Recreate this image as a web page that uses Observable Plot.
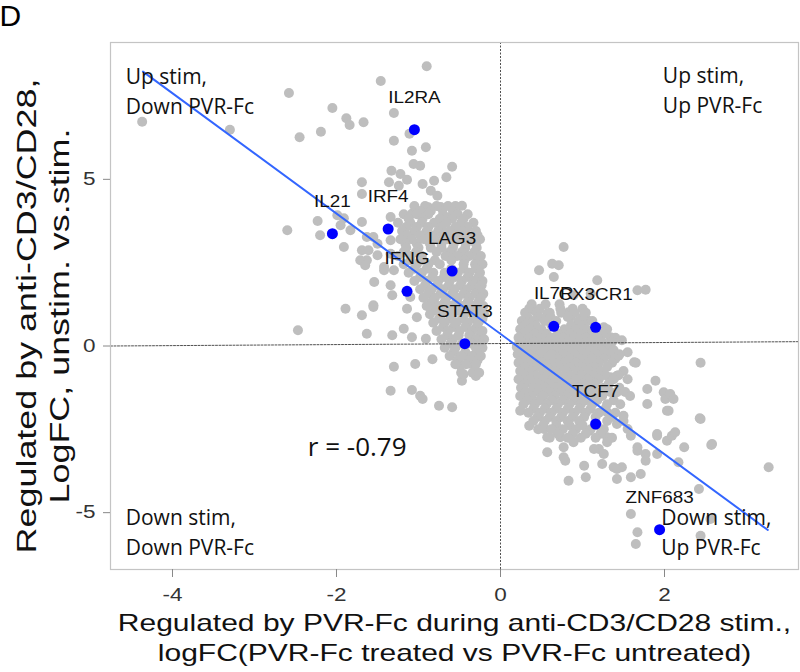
<!DOCTYPE html>
<html><head><meta charset="utf-8">
<script src="https://cdn.jsdelivr.net/npm/d3@7"></script>
<script src="https://cdn.jsdelivr.net/npm/@observablehq/plot@0.6"></script>
<style>body{margin:0;background:#fff}</style>
</head><body><div id="chart"></div>
<script>
// ---- data ----
const genes = ["IL2RA","IL21","IRF4","LAG3","IFNG","STAT3","IL7R","CX3CR1","TCF7","ZNF683"];
const geneX = [-1.05,-2.05,-1.37,-0.59,-1.14,-0.435,0.65,1.16,1.16,1.94];
const geneY = [6.49,3.37,3.51,2.25,1.64,0.07,0.59,0.56,-2.34,-5.51];

const greyLeftOutliers = [[-4.37,6.73],[-3.30,6.49],[-2.58,7.59],[-2.45,6.26],[-2.19,6.43],[-2.05,7.14],[-1.88,6.83],[-1.84,6.63],[-1.67,6.71],[-1.46,7.95],[-0.90,8.39],[-1.30,6.99],[-1.11,6.37],[-1.30,6.16],[-0.91,5.96],[-1.08,5.86],[-1.06,5.46],[-0.98,5.41],[-0.59,5.38],[-0.66,5.06],[-1.33,5.26],[-1.22,5.16],[-1.14,4.99],[-0.95,4.86],[-0.81,4.96],[-0.85,4.66],[-0.77,4.51],[-0.47,4.21],[-1.69,4.91],[-1.69,4.56],[-1.36,4.91],[-1.24,4.81],[-0.88,4.16],[-0.71,4.11],
[-2.60,3.47],[-2.23,3.75],[-2.20,3.32],[-1.91,2.97],[-1.89,1.12],[-2.47,0.47],[-1.99,3.92],[-1.95,3.62],[-1.83,3.47],[-1.63,3.27],[-1.50,3.07],[-1.34,2.77],[-1.69,2.87],[-1.63,2.57],[-1.42,2.37],[-1.34,1.82],[-1.32,1.52],[-1.69,0.92],[-1.55,1.22],[-1.63,0.37],[-1.32,0.32],[-1.69,3.72],[-1.91,3.83],[-1.55,3.27],[-1.34,3.17],[-1.14,3.27],[-1.61,2.87],[-1.50,2.72],[-1.71,2.57],[-1.65,2.42],[-1.42,2.27],[-1.30,2.27],[-1.54,1.92],[-1.10,1.47],[-1.55,1.17],[-1.14,1.12],[-1.18,0.52],[-1.02,0.86],[-1.08,0.26],[-0.91,0.22],[-1.34,3.87],[-1.08,3.97],[-0.89,4.07],[-0.73,4.17],[-0.61,3.87]];

const greyLowerLeft = [[-1.30,-0.62],[-1.04,-0.54],[-0.83,-0.40],[-0.49,-0.59],[-0.37,-0.53],[-0.47,-1.04],[-1.34,-1.34],[-1.08,-1.32],[-0.98,-1.49],[-0.95,-1.59],[-0.75,-1.79],[-0.59,-1.84],[-0.45,-0.85],[-0.30,-0.90]];

const greyRightOutliers = [[0.77,2.97],[0.63,2.47],[0.71,2.42],[0.47,2.27],[0.65,2.07],[1.18,1.97],[1.67,1.67],[1.77,1.69],[0.89,1.52],[1.10,1.57],[0.41,1.07],[0.57,0.97],[0.83,1.01],[1.00,1.12],[1.06,0.77],[0.37,0.71],[0.85,0.86],[1.26,0.56],[1.22,0.32],[1.34,0.26],[1.48,0.17],[1.10,0.32],[1.55,-0.19],[1.44,-0.29],[1.63,-0.49],[1.42,-0.89],[1.89,-1.04],[1.79,-1.29],[1.99,-1.39],[0.20,-0.04],[0.26,-0.53],[2.44,-0.50],[1.65,-0.50],[1.34,-0.94],[1.42,-1.39],[2.01,-1.59],[1.79,-1.74],[2.03,-1.94],[2.44,-2.19],[1.30,-2.74],[1.55,-2.49],[1.59,-2.69],[1.67,-3.04],[1.77,-3.24],[1.48,-3.64],[1.59,-3.94],[1.91,-2.69],[2.03,-2.84],[2.09,-2.69],[2.24,-3.04],[2.58,-2.94],[3.27,-3.64],[2.42,-4.29],[2.56,-5.19],[1.59,-5.04],[1.67,-5.59],[1.65,-5.94],[0.57,-3.19],[0.77,-3.04],[0.79,-3.44],[0.83,-4.04],[1.02,-3.59],[1.04,-3.94],[1.24,-3.54],[1.38,-3.64],[1.20,-3.09],[0.24,-1.94],[0.35,-2.39],[0.53,-2.49],[0.73,-2.74],[0.89,-2.89],[1.08,-2.54],[1.30,-2.89],[1.42,-2.34],[1.30,-1.99],[0.57,-2.74],[0.77,-3.34],[1.42,-3.99],[1.42,-3.69],[1.71,-3.84],[1.50,-2.09],[1.67,-3.14],[1.77,-3.44],[1.91,-3.24],[1.91,-2.64],[1.26,-3.24],[1.14,-3.09],[2.43,-2.17],[2.57,-2.97],[2.17,-3.49],[2.44,-5.69],[2.07,-1.44],[2.11,-1.59],[2.05,-1.94],[2.13,-2.59]];

// dense cores, row by row: [y, [x, ...]]
const greyLeftRows = [
 [4.2,[-1.05,-0.92,-0.78,-0.64,-0.55]],
 [4.05,[-0.98,-0.85,-0.58]],
 [3.95,[-1.18,-1.02,-0.88,-0.70,-0.52,-0.40]],
 [3.82,[-1.12,-0.95,-0.74,-0.59,-0.45]],
 [3.7,[-1.25,-1.10,-0.96,-0.81,-0.66,-0.48,-0.33]],
 [3.57,[-1.15,-1.02,-0.88,-0.72,-0.55,-0.40]],
 [3.45,[-1.20,-1.05,-0.90,-0.76,-0.62,-0.47,-0.30]],
 [3.32,[-1.14,-0.98,-0.84,-0.70,-0.55,-0.40,-0.28]],
 [3.2,[-1.22,-1.08,-0.93,-0.80,-0.65,-0.50,-0.36,-0.25]],
 [3.07,[-1.16,-1.02,-0.86,-0.72,-0.57,-0.42,-0.30]],
 [2.95,[-1.15,-1.00,-0.85,-0.72,-0.58,-0.43,-0.29]],
 [2.82,[-1.18,-1.03,-0.78,-0.62,-0.47,-0.32]],
 [2.7,[-1.25,-1.10,-0.96,-0.67,-0.53,-0.38,-0.24]],
 [2.57,[-1.10,-0.95,-0.80,-0.60,-0.44,-0.28]],
 [2.45,[-1.18,-1.02,-0.88,-0.74,-0.45,-0.31,-0.22]],
 [2.32,[-1.05,-0.90,-0.60,-0.45,-0.30]],
 [2.2,[-1.12,-0.96,-0.82,-0.68,-0.52,-0.38,-0.25]],
 [2.07,[-0.98,-0.83,-0.69,-0.55,-0.40,-0.27]],
 [1.95,[-1.05,-0.90,-0.76,-0.62,-0.47,-0.33,-0.22]],
 [1.82,[-0.92,-0.77,-0.63,-0.49,-0.35,-0.23]],
 [1.7,[-0.98,-0.84,-0.70,-0.56,-0.41,-0.28]],
 [1.57,[-0.88,-0.73,-0.59,-0.45,-0.31,-0.21]],
 [1.45,[-0.94,-0.80,-0.66,-0.52,-0.38,-0.24]],
 [1.32,[-0.84,-0.68,-0.54,-0.40,-0.27]],
 [1.2,[-0.90,-0.75,-0.61,-0.47,-0.33,-0.21]],
 [1.07,[-0.80,-0.65,-0.51,-0.37,-0.25]],
 [0.95,[-0.86,-0.72,-0.58,-0.44,-0.30,-0.20]],
 [0.82,[-0.75,-0.61,-0.47,-0.33,-0.22]],
 [0.7,[-0.82,-0.68,-0.54,-0.40,-0.27]],
 [0.57,[-0.70,-0.57,-0.43,-0.29]],
 [0.45,[-0.78,-0.64,-0.50,-0.35,-0.22]],
 [0.32,[-0.65,-0.51,-0.38,-0.25]],
 [0.2,[-0.72,-0.58,-0.30,-0.20]],
 [0.07,[-0.61,-0.47,-0.35,-0.24]],
 [-0.05,[-0.68,-0.55,-0.30,-0.22]],
 [-0.18,[-0.57,-0.43,-0.29]],
 [-0.3,[-0.62,-0.48,-0.35,-0.24]],
 [-0.43,[-0.52,-0.39,-0.28]],
 [-0.55,[-0.55,-0.42,-0.30]],
 [-0.8,[-0.48,-0.34,-0.26]]
];
const greyRightRows = [
 [1.25,[0.38,0.55,0.72]],
 [1.12,[0.35,0.48,0.73,0.88]],
 [1.0,[0.30,0.44,0.60,0.74,0.90,1.04]],
 [0.87,[0.33,0.47,0.61,0.82,1.00]],
 [0.75,[0.26,0.40,0.54,0.68,0.95,1.12]],
 [0.62,[0.30,0.43,0.62,0.86,1.00]],
 [0.5,[0.24,0.36,0.50,0.78,0.92,1.05,1.30]],
 [0.37,[0.28,0.42,0.56,0.70,0.84,0.98,1.12,1.25]],
 [0.25,[0.22,0.34,0.48,0.62,0.76,0.90,1.04,1.18,1.40]],
 [0.12,[0.26,0.40,0.54,0.68,0.82,0.96,1.10,1.24,1.36]],
 [0.0,[0.20,0.32,0.46,0.60,0.74,0.88,1.02,1.16,1.30]],
 [-0.13,[0.26,0.39,0.53,0.67,0.81,0.95,1.09,1.23,1.38]],
 [-0.25,[0.21,0.34,0.48,0.62,0.76,0.90,1.04,1.18,1.32,1.45]],
 [-0.38,[0.28,0.42,0.56,0.70,0.84,0.98,1.12,1.26,1.40]],
 [-0.5,[0.22,0.36,0.50,0.64,0.78,0.92,1.06,1.20,1.36]],
 [-0.63,[0.29,0.43,0.57,0.71,0.85,0.99,1.14,1.30]],
 [-0.75,[0.24,0.38,0.52,0.66,0.80,0.94,1.08,1.22,1.50]],
 [-0.88,[0.29,0.43,0.57,0.71,0.85,0.99,1.13,1.28,1.44]],
 [-1.0,[0.22,0.36,0.50,0.64,0.78,0.92,1.06,1.20,1.38,1.55]],
 [-1.13,[0.30,0.45,0.59,0.73,0.87,1.01,1.15,1.32]],
 [-1.25,[0.25,0.40,0.54,0.68,0.82,0.96,1.10,1.26,1.45]],
 [-1.38,[0.31,0.46,0.60,0.74,0.88,1.02,1.16,1.34,1.52]],
 [-1.5,[0.24,0.38,0.52,0.66,0.80,0.94,1.08,1.24,1.58]],
 [-1.63,[0.33,0.48,0.62,0.76,0.90,1.04,1.18,1.38]],
 [-1.75,[0.28,0.42,0.56,0.70,0.84,0.98,1.12,1.30,1.46]],
 [-1.88,[0.40,0.54,0.68,0.82,0.96,1.10,1.28]],
 [-2.0,[0.34,0.48,0.62,0.76,0.90,1.04,1.20,1.40]],
 [-2.13,[0.45,0.60,0.74,0.88,1.02,1.16,1.36]],
 [-2.25,[0.40,0.54,0.68,0.82,0.96,1.30,1.50]],
 [-2.38,[0.52,0.68,0.84,1.00,1.18]],
 [-2.5,[0.46,0.62,0.76,0.92,1.10,1.26]],
 [-2.63,[0.70,0.88,1.04,1.22]],
 [-2.75,[0.60,0.82,0.98,1.16,1.36]]
];

// fitted line end points and reference lines
const fitX = [-4.36, 3.26];
const fitY = [8.23, -5.52];
const zeroLineX = [-4.756, 3.634];
const zeroLineY = [0.0, 0.13];

const xTicks = [-4, -2, 0, 2];
const yTicks = [-5, 0, 5];

const quadText = ["Up stim,\nDown PVR-Fc", "Up stim,\nUp PVR-Fc", "Down stim,\nDown PVR-Fc", "Down stim,\nUp PVR-Fc"];
const quadX = [-4.57, 1.98, -4.57, 1.96];
const quadY = [8.51, 8.52, -4.73, -4.74];
const rText = "r = -0.79";
const rX = -2.35, rY = -3.05;

const xTitle = "Regulated by PVR-Fc during anti-CD3/CD28 stim.,\nlogFC(PVR-Fc treated vs PVR-Fc untreated)";
const yTitle = "Regulated by anti-CD3/CD28,\nLogFC, unstim. vs.stim.";
const panelLabel = "D";

// ---- build tables ----
const rowsToPts = rows => rows.flatMap(([y, xs]) => xs.map(x => [x, y]));
const greyPts = [...greyLeftOutliers, ...greyLowerLeft, ...greyRightOutliers, ...rowsToPts(greyLeftRows), ...rowsToPts(greyRightRows)];
const geneData = genes.map((g, i) => ({g, x: geneX[i], y: geneY[i]}));
const fitData = fitX.map((x, i) => ({x, y: fitY[i]}));
const zeroData = zeroLineX.map((x, i) => ({x, y: zeroLineY[i]}));
const quadData = quadText.map((t, i) => ({t, x: quadX[i], y: quadY[i]}));

const ARIAL = "'Liberation Sans', Arial, sans-serif";
const CALI = "'Open Sans', sans-serif";

const chart = Plot.plot({
  width: 800, height: 672,
  marginLeft: 110, marginRight: 2, marginTop: 42, marginBottom: 103,
  style: {fontFamily: ARIAL, fontSize: "18px", background: "#fff", color: "#222", overflow: "visible"},
  x: {domain: [-4.756, 3.634], axis: null, label: null},
  y: {domain: [-6.705, 9.105], axis: null, label: null},
  marks: [
    Plot.dot(greyPts, {x: d => d[0], y: d => d[1], r: 5, fill: "#bebebe"}),
    Plot.ruleX([0], {stroke: "#222", strokeWidth: 0.8, strokeDasharray: "2,1.5"}),
    Plot.line(zeroData, {x: "x", y: "y", stroke: "#222", strokeWidth: 0.8, strokeDasharray: "2,1.5"}),
    Plot.line(fitData, {x: "x", y: "y", stroke: "#3366ff", strokeWidth: 2}),
    Plot.dot(geneData, {x: "x", y: "y", r: 5.5, fill: "#0000ff"}),
    Plot.text(geneData, {x: "x", y: "y", text: "g", dy: -32, fontSize: 16, fontFamily: ARIAL, fill: "#111"}),
    Plot.text(quadData, {x: "x", y: "y", text: "t", textAnchor: "start", lineAnchor: "top", lineHeight: 1.43, fontSize: 21, fontFamily: CALI, fill: "#111"}),
    Plot.text([rText], {x: () => rX, y: () => rY, text: d => d, textAnchor: "start", fontSize: 26, fontFamily: CALI, fill: "#111"}),
    Plot.frame({stroke: "#c4c4c4", strokeWidth: 1.2}),
    Plot.axisX({ticks: xTicks, tickSize: 8, tickPadding: 11, tickFormat: d => String(d), stroke: "#888", fill: "#333", fontSize: 18, fontFamily: ARIAL, label: null}),
    Plot.axisY({ticks: yTicks, tickSize: 7, tickPadding: 8, tickFormat: d => String(d), stroke: "#888", fill: "#333", fontSize: 18, fontFamily: ARIAL, label: null}),
    Plot.text([xTitle], {frameAnchor: "bottom", dy: 40, textAnchor: "middle", lineAnchor: "top", lineHeight: 1.25, fontSize: 24, fontFamily: ARIAL, fill: "#111"}),
    Plot.text([yTitle], {frameAnchor: "left", dx: -98, dy: 10, rotate: -90, textAnchor: "middle", lineAnchor: "top", lineHeight: 1.22, fontSize: 27, fontFamily: ARIAL, fill: "#111"}),
    Plot.text([panelLabel], {frameAnchor: "top-left", dx: -111, dy: -38, textAnchor: "start", lineAnchor: "top", fontSize: 30, fontFamily: ARIAL, fill: "#000"})
  ]
});
document.getElementById("chart").append(chart);

// the reference text is wider than the font: stretch it along its own direction
const tickSet = new Set([...xTicks, ...yTicks].map(String));
const geneSet = new Set(genes);
function stretchFor(s) {
  if (tickSet.has(s)) return 1.25;
  if (geneSet.has(s)) return 1.18;
  if (s.startsWith("Regulated by PVR")) return 1.25;
  if (s.startsWith("Regulated by anti")) return 1.33;
  return 0;
}
chart.querySelectorAll("text").forEach(t => {
  const k = stretchFor(t.textContent.trim());
  if (!k) return;
  const tr = t.getAttribute("transform");
  if (tr) {
    t.setAttribute("transform", tr + ` scale(${k},1)`);
  } else {
    const x = +t.getAttribute("x") || 0, y = +t.getAttribute("y") || 0;
    t.setAttribute("transform", `translate(${x},${y}) scale(${k},1) translate(${-x},${-y})`);
  }
});
</script>
</body></html>
